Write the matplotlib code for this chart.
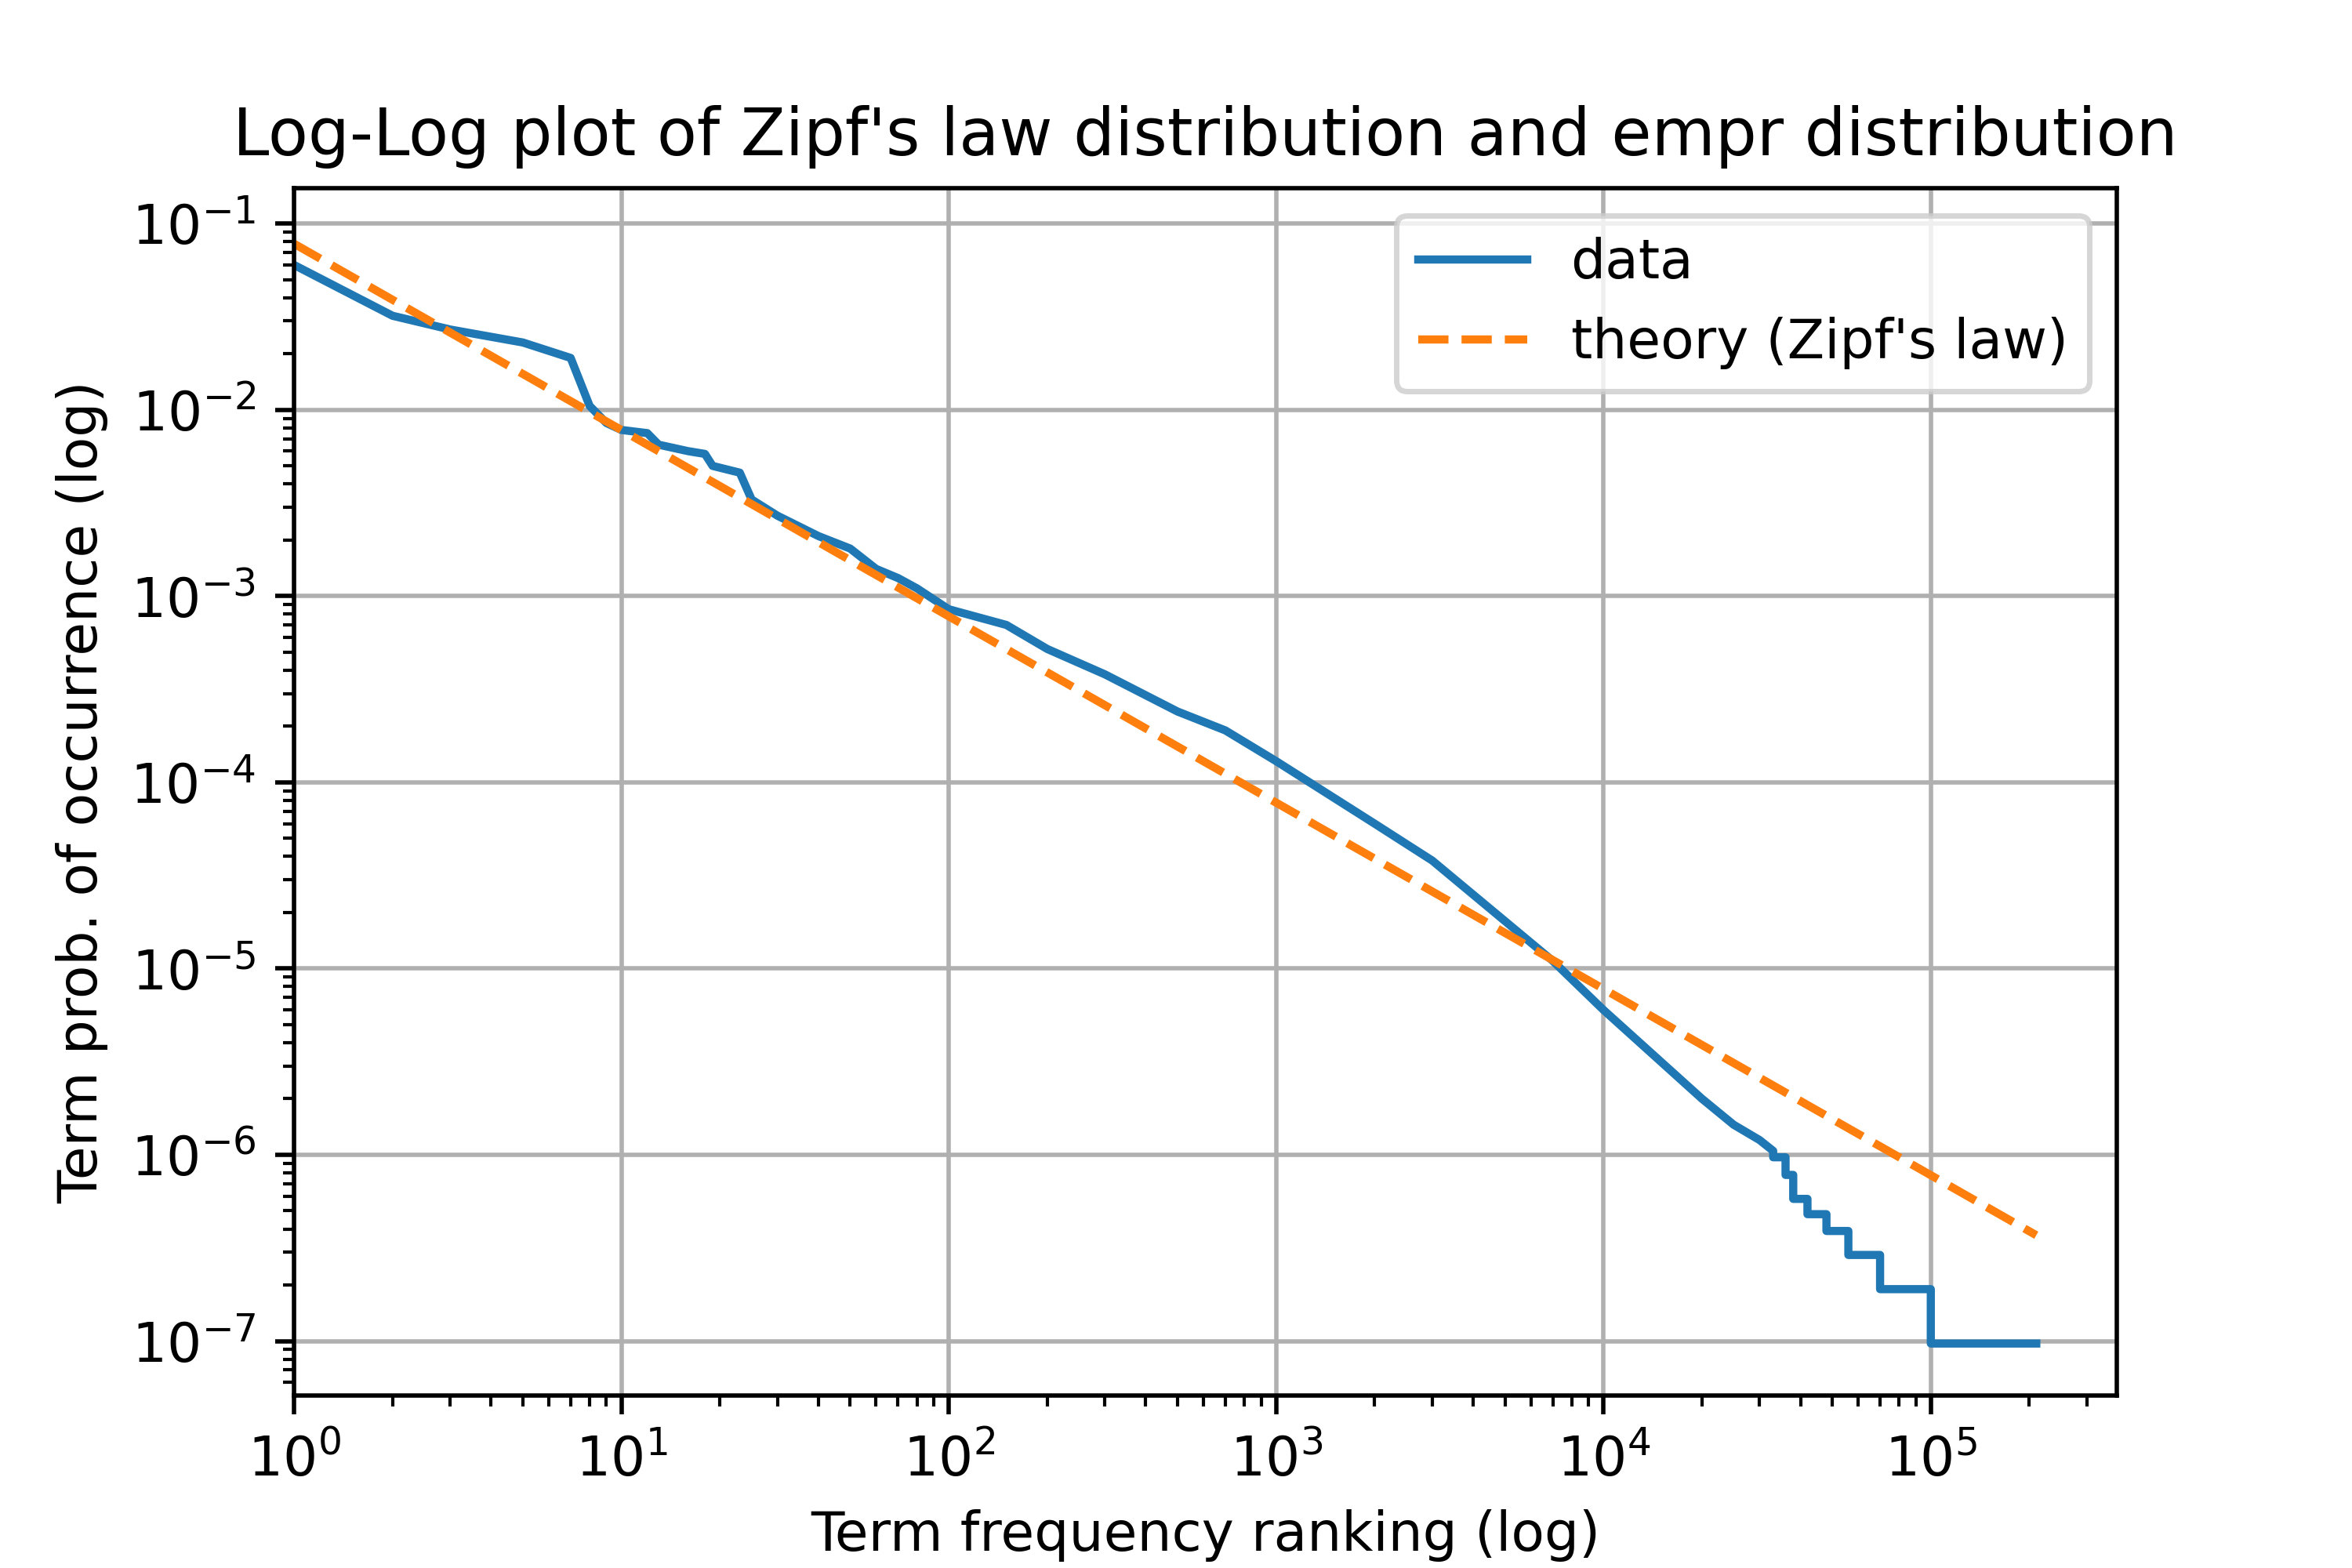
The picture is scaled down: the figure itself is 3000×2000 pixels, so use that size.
import matplotlib
matplotlib.use("Agg")
import matplotlib.pyplot as plt

data_rank = [1, 2, 3, 5, 7, 8, 9, 10, 12, 13, 16, 18, 19, 23, 25, 30, 40, 50, 60, 70, 80,
             100, 150, 200, 300, 500, 700, 1000, 2000, 3000, 5000, 7000, 10000, 20000,
             25000, 30000, 33000, 33000, 36000, 36000, 38000, 38000, 42000, 42000, 48000, 48000,
             56000, 56000, 70000, 70000, 100000, 100000, 210000]
data_prob = [0.06, 0.032, 0.027, 0.023, 0.019, 0.0105, 0.0085, 0.0078, 0.0075, 0.0065,
             0.006, 0.0058, 0.005, 0.0046, 0.0033, 0.0027, 0.0021, 0.0018, 0.0014, 0.00125,
             0.0011, 0.00085, 0.0007, 0.00052, 0.00038, 0.00024, 0.00019, 0.00013, 6e-5,
             3.8e-5, 1.8e-5, 1.1e-5, 6e-6, 2.0e-6, 1.45e-6, 1.2e-6, 1.05e-6, 0.97e-6, 0.97e-6,
             0.78e-6, 0.78e-6, 0.58e-6, 0.58e-6, 0.48e-6, 0.48e-6, 0.39e-6, 0.39e-6,
             0.29e-6, 0.29e-6, 0.19e-6, 0.19e-6, 0.097e-6, 0.097e-6]

# theoretical Zipf line endpoints
theory_rank = [1, 210000]
theory_prob = [0.078, 3.7e-7]

fig, ax = plt.subplots(figsize=(6, 4), dpi=500)
ax.loglog(data_rank, data_prob, color="#1f77b4", label="data")
ax.loglog(theory_rank, theory_prob, "--", color="#ff7f0e", label="theory (Zipf's law)")
ax.set_xlim(1, 3.7e5)
ax.set_ylim(5.1e-8, 0.155)
ax.grid(True)
ax.set_title("Log-Log plot of Zipf's law distribution and empr distribution")
ax.set_xlabel("Term frequency ranking (log)")
ax.set_ylabel("Term prob. of occurrence (log)")
ax.legend()
fig.savefig("out.png")
